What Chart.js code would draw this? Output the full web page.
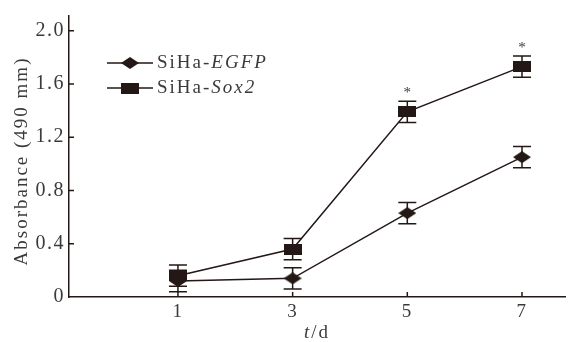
<!DOCTYPE html>
<html>
<head>
<meta charset="utf-8">
<script src="https://cdn.jsdelivr.net/npm/chart.js@4"></script>
<style>
html,body{margin:0;padding:0;background:#fff;}
canvas{display:block;}
</style>
</head>
<body>
<canvas id="c" width="576" height="342"></canvas>
<script>
const days = [1, 3, 5, 7];
const egfp = [0.12, 0.14, 0.63, 1.05];
const egfpErr = [0.08, 0.08, 0.08, 0.08];
const sox2 = [0.16, 0.36, 1.39, 1.73];
const sox2Err = [0.08, 0.08, 0.08, 0.08];
const sox2Sig = ['', '', '*', '*'];
const yTicks = [0, 0.4, 0.8, 1.2, 1.6, 2.0];
const yTickLabels = ['0', '0.4', '0.8', '1.2', '1.6', '2.0'];
const xTicks = [1, 3, 5, 7];
const xTickLabels = ['1', '3', '5', '7'];

const INK = '#231815';
const TXT = '#3a3a3a';
const FONT = 'Liberation Serif, Times New Roman, serif';
const SPACING = '1.5px';
const TSPACING = '2px';

function makeDiamond(w, h) {
  const c = document.createElement('canvas');
  c.width = w; c.height = h;
  const g = c.getContext('2d');
  g.fillStyle = INK;
  g.beginPath();
  g.moveTo(w / 2, 0); g.lineTo(w, h / 2); g.lineTo(w / 2, h); g.lineTo(0, h / 2);
  g.closePath(); g.fill();
  return c;
}
function makeRect(w, h) {
  const c = document.createElement('canvas');
  c.width = w; c.height = h;
  const g = c.getContext('2d');
  g.fillStyle = INK;
  g.fillRect(0, 0, w, h);
  return c;
}
const diamond = makeDiamond(18, 12);
const square = makeRect(18, 11);

const errs = [egfpErr, sox2Err];
const sigs = [null, sox2Sig];

const deco = {
  id: 'deco',
  beforeDraw(chart) {
    chart.ctx.letterSpacing = SPACING;
  },
  beforeDatasetsDraw(chart) {
    const ctx = chart.ctx;
    const ys = chart.scales.y;
    ctx.save();
    ctx.strokeStyle = INK;
    ctx.lineWidth = 1.5;
    chart.data.datasets.forEach((ds, di) => {
      const meta = chart.getDatasetMeta(di);
      meta.data.forEach((pt, i) => {
        const v = ds.data[i].y, e = errs[di][i];
        const yt = ys.getPixelForValue(v + e), yb = ys.getPixelForValue(v - e);
        const x = pt.x, hw = 9;
        ctx.beginPath();
        ctx.moveTo(x, yt); ctx.lineTo(x, yb);
        ctx.moveTo(x - hw, yt); ctx.lineTo(x + hw, yt);
        ctx.moveTo(x - hw, yb); ctx.lineTo(x + hw, yb);
        ctx.stroke();
      });
    });
    ctx.restore();
  },
  afterDraw(chart) {
    const ctx = chart.ctx;
    const { left, right, top, bottom } = chart.chartArea;
    const xs = chart.scales.x, ys = chart.scales.y;
    ctx.save();
    // inward ticks
    ctx.strokeStyle = INK;
    ctx.lineWidth = 1.5;
    ctx.beginPath();
    yTicks.forEach(v => {
      if (v === 0) return;
      const y = ys.getPixelForValue(v);
      ctx.moveTo(left, y); ctx.lineTo(left + 5, y);
    });
    xTicks.forEach(v => {
      const x = xs.getPixelForValue(v);
      ctx.moveTo(x, bottom); ctx.lineTo(x, bottom - 5);
    });
    ctx.stroke();

    // significance marks
    ctx.letterSpacing = '0px';
    ctx.fillStyle = TXT;
    ctx.font = '15px ' + FONT;
    ctx.textAlign = 'center';
    ctx.textBaseline = 'alphabetic';
    sigs.forEach((s, di) => {
      if (!s) return;
      const meta = chart.getDatasetMeta(di);
      meta.data.forEach((pt, i) => {
        if (!s[i]) return;
        const v = chart.data.datasets[di].data[i].y + errs[di][i];
        ctx.fillText(s[i], pt.x, ys.getPixelForValue(v) - 4);
      });
    });

    // legend
    ctx.letterSpacing = TSPACING;
    const legend = [
      { img: diamond, a: 'SiHa-', b: 'EGFP', y: 63 },
      { img: square, a: 'SiHa-', b: 'Sox2', y: 88 }
    ];
    legend.forEach(it => {
      ctx.strokeStyle = INK;
      ctx.lineWidth = 1.5;
      ctx.beginPath();
      ctx.moveTo(107, it.y); ctx.lineTo(153, it.y);
      ctx.stroke();
      ctx.drawImage(it.img, 130 - it.img.width / 2, it.y - it.img.height / 2);
      ctx.fillStyle = TXT;
      ctx.textAlign = 'left';
      ctx.textBaseline = 'middle';
      ctx.font = '19px ' + FONT;
      ctx.fillText(it.a, 157, it.y);
      const w = ctx.measureText(it.a).width;
      ctx.font = 'italic 19px ' + FONT;
      ctx.fillText(it.b, 157 + w, it.y);
    });

    // y title
    ctx.fillStyle = TXT;
    ctx.font = '19px ' + FONT;
    ctx.textAlign = 'center';
    ctx.textBaseline = 'middle';
    ctx.save();
    ctx.translate(22, 161);
    ctx.rotate(-Math.PI / 2);
    ctx.fillText('Absorbance (490 mm)', 0, 0);
    ctx.restore();

    // x title: t/d
    ctx.font = 'italic 19px ' + FONT;
    const tW = ctx.measureText('t').width;
    ctx.font = '19px ' + FONT;
    const dW = ctx.measureText('/d').width;
    const cx = (left + right) / 2;
    const sx = cx - (tW + dW) / 2;
    ctx.textAlign = 'left';
    ctx.font = 'italic 19px ' + FONT;
    ctx.fillText('t', sx, 333);
    ctx.font = '19px ' + FONT;
    ctx.fillText('/d', sx + tW, 333);
    ctx.restore();
  }
};

new Chart(document.getElementById('c'), {
  type: 'line',
  data: {
    datasets: [
      {
        label: 'SiHa-EGFP',
        data: days.map((d, i) => ({ x: d, y: egfp[i] })),
        borderColor: INK,
        borderWidth: 1.5,
        pointStyle: diamond,
        tension: 0,
        fill: false
      },
      {
        label: 'SiHa-Sox2',
        data: days.map((d, i) => ({ x: d, y: sox2[i] })),
        borderColor: INK,
        borderWidth: 1.5,
        pointStyle: square,
        tension: 0,
        fill: false
      }
    ]
  },
  options: {
    responsive: false,
    animation: false,
    layout: { padding: { top: 7, right: 11, left: 0, bottom: 0 } },
    plugins: { legend: { display: false }, tooltip: { enabled: false } },
    scales: {
      x: {
        type: 'linear',
        min: -0.9,
        max: 7.75,
        afterBuildTicks: s => { s.ticks = xTicks.map(v => ({ value: v })); },
        afterFit: s => { s.height = 45; },
        ticks: {
          callback: (v) => xTickLabels[xTicks.indexOf(v)],
          font: { family: FONT, size: 19 },
          color: TXT,
          padding: 4,
          maxRotation: 0
        },
        grid: { display: false, drawTicks: false },
        border: { display: true, color: INK, width: 1.5 }
      },
      y: {
        min: 0,
        max: 2.11,
        afterBuildTicks: s => { s.ticks = yTicks.map(v => ({ value: v })); },
        afterFit: s => { s.width = 69; },
        ticks: {
          callback: (v) => yTickLabels[yTicks.indexOf(v)],
          font: { family: FONT, size: 20 },
          color: TXT,
          padding: 4
        },
        grid: { display: false, drawTicks: false },
        border: { display: true, color: INK, width: 1.5 }
      }
    }
  },
  plugins: [deco]
});
</script>
</body>
</html>
